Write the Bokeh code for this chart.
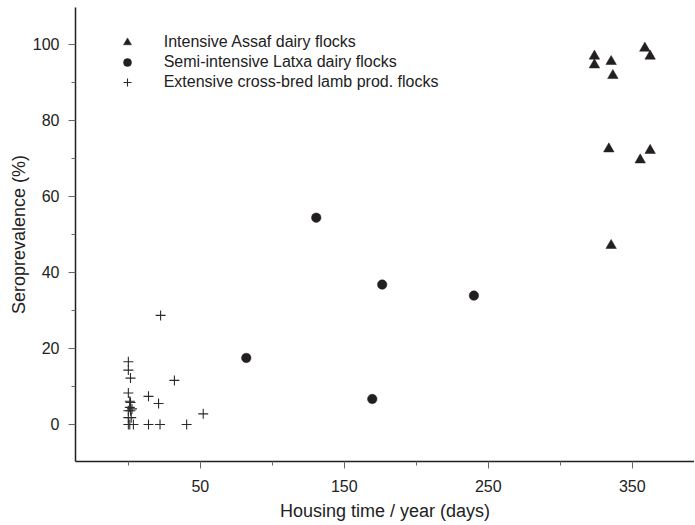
from bokeh.plotting import figure
from bokeh.models import FixedTicker, Legend, LegendItem, Range1d
from bokeh.embed import file_html
from bokeh.resources import INLINE

# Intensive Assaf dairy flocks
assaf_x = [323.7, 323.7, 335.3, 336.5, 358.7, 362.4, 333.7, 362.4, 355.5, 335.3]
assaf_y = [96.9, 94.6, 95.5, 91.8, 99.0, 96.9, 72.5, 72.1, 69.6, 47.1]

# Semi-intensive Latxa dairy flocks
latxa_x = [130.5, 81.9, 176.3, 240.0, 169.4]
latxa_y = [54.4, 17.5, 36.8, 33.9, 6.7]

# Extensive cross-bred lamb production flocks
ext_x = [22.4, 0, 0, 1.5, 32, 0, 14, 21, 1.5, 1, 1.5, 0, 0, 2, 52, 0, 1, 3.5, 14, 22, 40.5, 1.0, 2.5]
ext_y = [28.7, 16.5, 14.3, 12.2, 11.6, 8.3, 7.4, 5.5, 5.8, 4.5, 3.6, 3.6, 1.8, 1.8, 2.8, 0, 0, 0, 0, 0, 0, 6.1, 4.1]

x_ticks = [50, 150, 250, 350]
x_minor = [0, 100, 200, 300]
y_ticks = [0, 20, 40, 60, 80, 100]
y_minor = [10, 30, 50, 70, 90]

ink = "#231f20"
FONT = "Liberation Sans"

p = figure(width=694, height=524, output_backend="svg", toolbar_location=None,
           x_range=Range1d(-36.7, 393.2), y_range=Range1d(-9.74, 109.7),
           min_border_left=75, min_border_right=0, min_border_top=7, min_border_bottom=63)
p.outline_line_color = None
p.xgrid.visible = False
p.ygrid.visible = False
p.background_fill_color = "white"

r1 = p.scatter(assaf_x, assaf_y, marker="triangle", size=10.5, fill_color=ink, line_color=ink, line_width=0.5)
r2 = p.scatter(latxa_x, latxa_y, marker="circle", size=9.5, fill_color=ink, line_color=ink, line_width=0.5)
r3 = p.scatter(ext_x, ext_y, marker="cross", size=10, line_color="#2a2a2a", line_width=1.1)

for ax, ticks, minor in ((p.xaxis[0], x_ticks, x_minor), (p.yaxis[0], y_ticks, y_minor)):
    ax.ticker = FixedTicker(ticks=ticks, minor_ticks=minor)
    ax.axis_line_color = ink
    ax.axis_line_width = 1.5
    ax.major_tick_line_color = "#666666"
    ax.minor_tick_line_color = "#666666"
    ax.major_tick_in = 0
    ax.minor_tick_in = 0
    ax.major_tick_out = 7
    ax.minor_tick_out = 4
    ax.major_label_text_font = FONT
    ax.major_label_text_font_size = "16px"
    ax.major_label_text_color = "#222222"
    ax.axis_label_text_font = FONT
    ax.axis_label_text_font_size = "18px"
    ax.axis_label_text_font_style = "normal"
    ax.axis_label_text_color = "#222222"

p.xaxis.axis_label = "Housing time / year (days)"
p.yaxis.axis_label = "Seroprevalence (%)"
p.xaxis.major_label_standoff = 11
p.xaxis.axis_label_standoff = 6
p.yaxis.major_label_standoff = 9
p.yaxis.axis_label_standoff = 1

legend = Legend(items=[
    LegendItem(label="Intensive Assaf dairy flocks", renderers=[r1]),
    LegendItem(label="Semi-intensive Latxa dairy flocks", renderers=[r2]),
    LegendItem(label="Extensive cross-bred lamb prod. flocks", renderers=[r3]),
], location=(41.7, 369), padding=0, margin=0, spacing=0,
    glyph_width=20, glyph_height=20, label_height=20, label_standoff=27,
    border_line_color=None, background_fill_alpha=0,
    label_text_font=FONT, label_text_font_size="16px", label_text_color="#222222")
p.add_layout(legend, "center")

open("out.html", "w").write(file_html(p, INLINE))
